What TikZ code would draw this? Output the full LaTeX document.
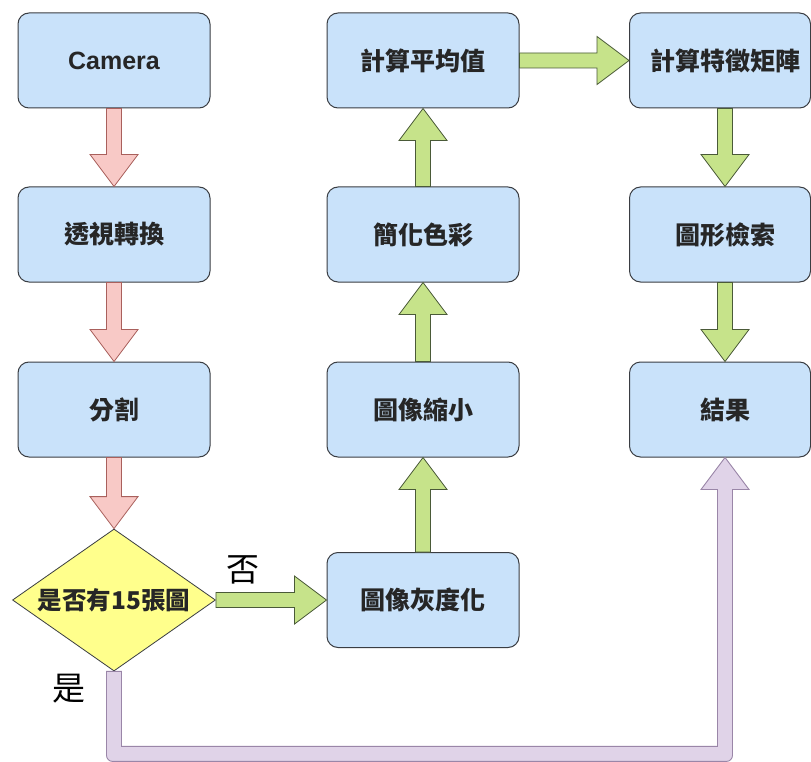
\documentclass[tikz,border=0pt]{standalone}
\usepackage{fontspec}
\setmainfont{Liberation Sans}
\newfontfamily\cjk{Noto Sans CJK TC}
\usetikzlibrary{calc,shapes.geometric}
\definecolor{boxfill}{HTML}{C9E2FA}
\definecolor{boxline}{HTML}{3A3D42}
\definecolor{pinkfill}{HTML}{F8C9C6}
\definecolor{pinkline}{HTML}{A9605C}
\definecolor{greenfill}{HTML}{C6E38A}
\definecolor{greenline}{HTML}{4A5A38}
\definecolor{purplefill}{HTML}{E0D3E8}
\definecolor{purpleline}{HTML}{9A86A8}
\definecolor{diafill}{HTML}{FFFF8C}
\tikzset{
  procbox/.style={draw=boxline, fill=boxfill, line width=1pt, rounded corners=11pt,
    minimum width=192pt, minimum height=95pt, inner sep=0pt,
    font=\fontsize{25}{29}\selectfont\bfseries\cjk, text=black!85},
  decbox/.style={diamond, draw=boxline, fill=diafill, line width=0.8pt,
    minimum width=203pt, minimum height=142pt, inner sep=0pt, aspect=1.43,
    font=\fontsize{24.5}{28}\selectfont\bfseries\cjk, text=black!85},
  pinkarr/.style={draw=pinkline, fill=pinkfill, line width=0.8pt, line join=miter},
  greenarr/.style={draw=greenline, fill=greenfill, line width=0.8pt, line join=miter},
  purparr/.style={draw=purpleline, fill=purplefill, line width=0.9pt},
  lbl/.style={font=\fontsize{33}{36}\selectfont\cjk, text=black}
}
% block arrow: style, start, end
\newcommand\blockarr[3]{%
  \path ($(#3)!32pt!(#2)$) coordinate (bah);
  \draw[#1] ($(#2)!7.5pt!90:(#3)$) -- ($(bah)!7.5pt!90:(#3)$) -- ($(bah)!24pt!90:(#3)$)
    -- (#3) -- ($(bah)!24pt!-90:(#3)$) -- ($(bah)!7.5pt!-90:(#3)$)
    -- ($(#2)!7.5pt!-90:(#3)$) -- cycle;}
\begin{document}
\begin{tikzpicture}[x=1pt,y=-1pt]
\useasboundingbox (0,0) rectangle (811,762);
\fill[white] (0,0) rectangle (811,762);
% column 1
\node[procbox] (cam) at (114,60.5) {\fontspec{Liberation Sans}\bfseries Camera};
\node[procbox] (tsh) at (114,234.5) {透視轉換};
\node[procbox] (seg) at (114,409.5) {分割};
\node[decbox] (dec) at (114,600) {是否有15張圖};
% column 2
\node[procbox] (gray) at (423,600) {圖像灰度化};
\node[procbox] (shr) at (423,409.5) {圖像縮小};
\node[procbox] (col) at (423,234.5) {簡化色彩};
\node[procbox] (avg) at (423,60.5) {計算平均值};
% column 3
\node[procbox, minimum width=181pt] (eig) at (720,60.5) {\hspace{10pt}計算特徵矩陣};
\node[procbox, minimum width=181pt] (ret) at (720,234.5) {\hspace{10pt}圖形檢索};
\node[procbox, minimum width=181pt] (res) at (720,409.5) {\hspace{10pt}結果};
\coordinate (eigS) at ($(eig.south)+(5,0)$);
\coordinate (retN) at ($(ret.north)+(5,0)$);
\coordinate (retS) at ($(ret.south)+(5,0)$);
\coordinate (resN) at ($(res.north)+(5,0)$);
\coordinate (resS) at ($(res.south)+(5,0)$);
% arrows
\blockarr{pinkarr}{cam.south}{tsh.north}
\blockarr{pinkarr}{tsh.south}{seg.north}
\blockarr{pinkarr}{seg.south}{dec.north}
\blockarr{greenarr}{dec.east}{gray.west}
\blockarr{greenarr}{gray.north}{shr.south}
\blockarr{greenarr}{shr.north}{col.south}
\blockarr{greenarr}{col.north}{avg.south}
\blockarr{greenarr}{avg.east}{eig.west}
\blockarr{greenarr}{eigS}{retN}
\blockarr{greenarr}{retS}{resN}
% purple elbow arrow
\draw[purparr] let \p1=(dec.south), \p2=(resS) in
  (\x1-7.5pt,\y1) -- (\x1-7.5pt,{\y1-75pt})
  [rounded corners=6pt] -- (\x1-7.5pt,{\y1-90pt}) -- (\x2+7.5pt,{\y1-90pt})
  [sharp corners] -- (\x2+7.5pt,{\y2-32pt}) -- (\x2+24pt,{\y2-32pt}) -- (\x2,\y2)
  -- (\x2-24pt,{\y2-32pt}) -- (\x2-7.5pt,{\y2-32pt}) -- (\x2-7.5pt,{\y1-75pt})
  -- (\x1+7.5pt,{\y1-75pt}) -- (\x1+7.5pt,\y1) -- cycle;
% labels
\node[lbl] (no) at (243,570) {否};
\node[lbl] (yes) at (69,689) {是};
\end{tikzpicture}
\end{document}
